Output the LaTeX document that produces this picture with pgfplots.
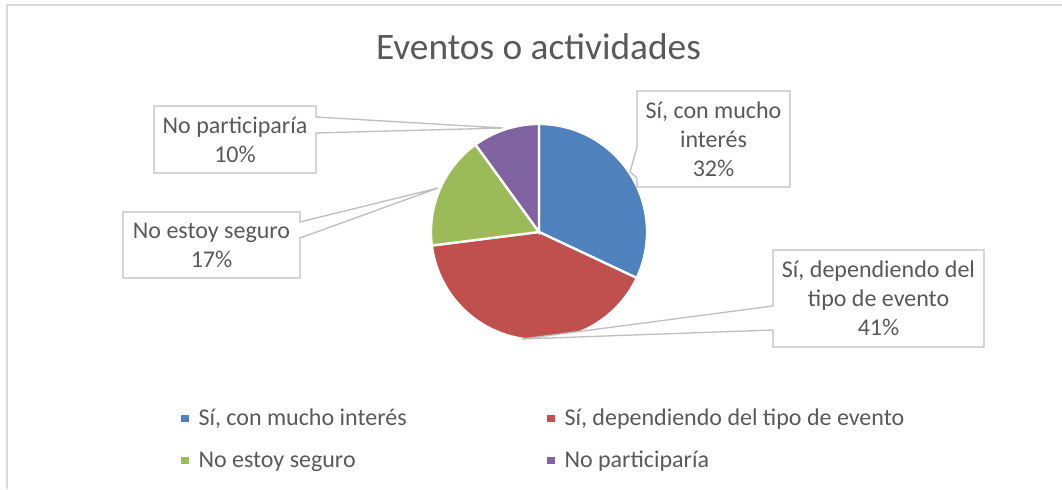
\documentclass[border=0pt]{standalone}
\usepackage{pgfplots}
\pgfplotsset{compat=1.18}
\usepackage{pgfplotstable}
\usepackage{fontspec}
\setmainfont{Carlito}
\definecolor{pieblue}{HTML}{4F81BD}
\definecolor{piered}{HTML}{C0504D}
\definecolor{piegreen}{HTML}{9BBB59}
\definecolor{piepurple}{HTML}{8064A2}
\definecolor{textgray}{HTML}{595959}
\definecolor{boxgray}{HTML}{BFBFBF}
\definecolor{framegray}{HTML}{D9D9D9}
\begin{document}
\pgfplotstableread{
idx value
0 32
1 41
2 17
3 10
}\piedata
\pgfplotstablegetelem{0}{value}\of\piedata \let\vA\pgfplotsretval
\pgfplotstablegetelem{1}{value}\of\piedata \let\vB\pgfplotsretval
\pgfplotstablegetelem{2}{value}\of\piedata \let\vC\pgfplotsretval
\pgfplotstablegetelem{3}{value}\of\piedata \let\vD\pgfplotsretval
\pgfmathsetmacro\aA{90}%
\pgfmathsetmacro\aB{\aA-3.6*\vA}%
\pgfmathsetmacro\aC{\aB-3.6*\vB}%
\pgfmathsetmacro\aD{\aC-3.6*\vC}%
\pgfmathsetmacro\aE{\aD-3.6*\vD}%
\begin{tikzpicture}[font=\fontsize{18pt}{21.75pt}\selectfont]
\begin{axis}[name=ax,
  width=796.5pt, height=366.75pt, scale only axis,
  xmin=0, xmax=1062, ymin=0, ymax=489,
  enlargelimits=false,
  hide axis, clip=false,
  legend columns=2,
  legend cell align=left,
  legend image code/.code={\fill[#1, draw=none] (0pt,-2.7pt) rectangle (5.4pt,2.7pt); \path (10pt,0pt);},
  legend style={draw=none, fill=none, text=textgray, inner sep=0pt,
    font=\fontsize{18pt}{21.75pt}\selectfont,
    at={(axis description cs:0.1705,0.169)}, anchor=north west,
    row sep=13.5pt,
    /tikz/every even column/.append style={column sep=103.5pt}},
]
\addplot[draw=white, line width=1.75pt, fill=pieblue, domain=\aB:\aA, samples=90, variable=\t]
  ({539+108*cos(t)},{257+108*sin(t)}) -- (axis cs:539,257) -- cycle;
\addlegendentry{Sí, con mucho interés}
\addplot[draw=white, line width=1.75pt, fill=piered, domain=\aC:\aB, samples=90, variable=\t]
  ({539+108*cos(t)},{257+108*sin(t)}) -- (axis cs:539,257) -- cycle;
\addlegendentry{Sí, dependiendo del tipo de evento}
\addplot[draw=white, line width=1.75pt, fill=piegreen, domain=\aD:\aC, samples=90, variable=\t]
  ({539+108*cos(t)},{257+108*sin(t)}) -- (axis cs:539,257) -- cycle;
\addlegendentry{No estoy seguro}
\addplot[draw=white, line width=1.75pt, fill=piepurple, domain=\aE:\aD, samples=90, variable=\t]
  ({539+108*cos(t)},{257+108*sin(t)}) -- (axis cs:539,257) -- cycle;
\addlegendentry{No participaría}

% frame
\draw[framegray, line width=1pt] (axis cs:7,0) -- (axis cs:7,484) -- (axis cs:1062,484);
% title
\node[anchor=base, text=textgray, font=\fontsize{28pt}{33pt}\selectfont] at (axis cs:538.5,429) {Eventos o actividades};

% callouts
\draw[boxgray, line width=1pt, fill=white] (axis cs:154,383) -- (axis cs:316,383) -- (axis cs:316,372) -- (axis cs:503,361) -- (axis cs:316,356) -- (axis cs:316,316) -- (axis cs:154,316) -- cycle;
\node[text=textgray, align=center] at (axis cs:235,349.5) {No participaría\\10\%};

\draw[boxgray, line width=1pt, fill=white] (axis cs:123,277) -- (axis cs:300,277) -- (axis cs:300,267) -- (axis cs:438,301) -- (axis cs:300,251) -- (axis cs:300,211) -- (axis cs:123,211) -- cycle;
\node[text=textgray, align=center] at (axis cs:211.5,244) {No estoy seguro\\17\%};

\draw[boxgray, line width=1pt, fill=white] (axis cs:637,398) -- (axis cs:790,398) -- (axis cs:790,302) -- (axis cs:637,302) -- (axis cs:637,311) -- (axis cs:630,317) -- (axis cs:637,342) -- cycle;
\node[text=textgray, align=center] at (axis cs:713.5,350) {Sí, con mucho\\interés\\32\%};

\draw[boxgray, line width=1pt, fill=white] (axis cs:773,239) -- (axis cs:984,239) -- (axis cs:984,142) -- (axis cs:773,142) -- (axis cs:773,159) -- (axis cs:522,150) -- (axis cs:773,183) -- cycle;
\node[text=textgray, align=center] at (axis cs:878.5,190.5) {Sí, dependiendo del\\tipo de evento\\41\%};
\end{axis}
\pgfresetboundingbox
\path (ax.south west) rectangle (ax.north east);
\end{tikzpicture}
\end{document}
